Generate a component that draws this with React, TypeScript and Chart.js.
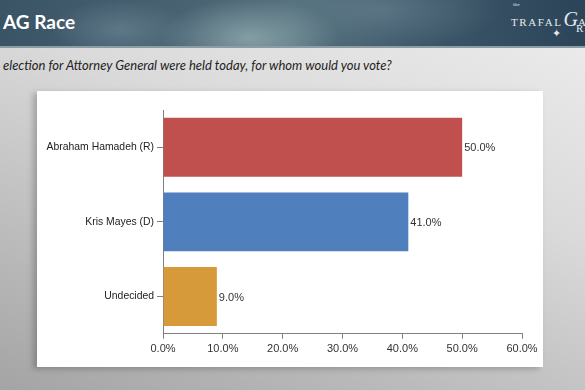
import React, { useEffect, useRef } from "react";
import { Chart, registerables } from "chart.js";
Chart.register(...registerables);

const titleText = "AG Race";
const questionText = "election for Attorney General were held today, for whom would you vote?";
const categories = ["Abraham Hamadeh (R)", "Kris Mayes (D)", "Undecided"];
const values = [50.0, 41.0, 9.0];
const barColors = ["#C0504D", "#4F7FBD", "#D69A3B"];
const xMin = 0;
const xMax = 60;
const xStep = 10;

const FONT = "'Liberation Sans', Arial, Helvetica, sans-serif";

const valueLabels = {
  id: "valueLabels",
  afterDatasetsDraw(chart: any) {
    const ctx = chart.ctx;
    const meta = chart.getDatasetMeta(0);
    ctx.save();
    ctx.font = `11px ${FONT}`;
    ctx.fillStyle = "#333333";
    ctx.textBaseline = "middle";
    ctx.textAlign = "left";
    meta.data.forEach((bar: any, i: number) => {
      const v = chart.data.datasets[0].data[i] as number;
      ctx.fillText(v.toFixed(1) + "%", bar.x + 2, bar.y + 1);
    });
    ctx.restore();
  },
};

function BarChart() {
  const ref = useRef<HTMLCanvasElement>(null);
  useEffect(() => {
    if (!ref.current) return;
    const chart = new Chart(ref.current, {
      type: "bar",
      data: {
        labels: categories,
        datasets: [
          {
            data: values,
            backgroundColor: barColors,
            borderWidth: 0,
            barPercentage: 0.79,
            categoryPercentage: 1,
          },
        ],
      },
      options: {
        indexAxis: "y",
        responsive: false,
        animation: false,
        layout: { padding: { top: 19, right: 21, bottom: 7, left: 0 } },
        plugins: { legend: { display: false }, tooltip: { enabled: false } },
        scales: {
          x: {
            min: xMin,
            max: xMax,
            ticks: {
              stepSize: xStep,
              callback: (v: any) => Number(v).toFixed(1) + "%",
              font: { size: 11, family: FONT },
              color: "#333333",
              padding: 4,
              maxRotation: 0,
            },
            grid: { drawOnChartArea: false, tickLength: 5, color: "#808080" },
            border: { color: "#808080" },
          },
          y: {
            ticks: { font: { size: 10.4, family: FONT }, color: "#222222", padding: 3 },
            grid: { drawOnChartArea: false, offset: false, tickLength: 6, color: "#808080" },
            border: { color: "#808080" },
            afterFit: (s: any) => {
              s.width = 126;
            },
          },
        },
      },
      plugins: [valueLabels],
    });
    return () => chart.destroy();
  }, []);
  return <canvas ref={ref} width={506} height={276} style={{ width: 506, height: 276, display: "block" }} />;
}

export default function App() {
  return (
    <div
      style={{
        position: "fixed",
        left: 0,
        top: 0,
        width: 585,
        height: 390,
        overflow: "hidden",
        background: "linear-gradient(200deg, #eeeeee 0%, #dadada 40%, #a4a4a4 100%)",
      }}
    >
      <div
        style={{
          position: "absolute",
          left: 0,
          top: 0,
          width: 585,
          height: 48,
          background:
            "radial-gradient(ellipse 90px 40px at 250px 38px, rgba(150,175,180,0.75), rgba(150,175,180,0) 100%)," +
            "radial-gradient(ellipse 70px 30px at 120px 30px, rgba(120,145,160,0.5), rgba(120,145,160,0) 100%)," +
            "radial-gradient(ellipse 120px 40px at 380px 10px, rgba(110,135,150,0.55), rgba(110,135,150,0) 100%)," +
            "linear-gradient(90deg, #3a5466 0%, #4a6474 35%, #54707c 50%, #3e586a 70%, #2c4458 100%)",
          borderBottom: "2px solid #8a9ca4",
          boxSizing: "border-box",
        }}
      >
        <div
          style={{
            position: "absolute",
            left: 3,
            top: 10,
            fontFamily: "Lato, 'Open Sans', sans-serif",
            fontWeight: 700,
            fontSize: 19,
            color: "#ffffff",
            lineHeight: "24px",
          }}
        >
          {titleText}
        </div>
        <div
          style={{
            position: "absolute",
            left: 513,
            top: 2,
            fontFamily: "'DejaVu Serif', 'Liberation Serif', serif",
            fontSize: 4,
            color: "#dfe6ea",
          }}
        >
          the
        </div>
        <div
          style={{
            position: "absolute",
            left: 511,
            top: 8,
            fontFamily: "'Liberation Serif', serif",
            fontSize: 11,
            letterSpacing: 1.6,
            color: "#e4eaee",
            whiteSpace: "nowrap",
          }}
        >
          TRAFAL
          <span style={{ fontStyle: "italic", fontSize: 20, letterSpacing: 0, marginLeft: 1 }}>G</span>
          <span>A</span>
        </div>
        <div
          style={{
            position: "absolute",
            left: 576,
            top: 22,
            fontFamily: "'Liberation Serif', serif",
            fontSize: 11,
            color: "#e4eaee",
          }}
        >
          R
        </div>
        <div
          style={{
            position: "absolute",
            left: 552,
            top: 27,
            fontSize: 11,
            color: "#e4eaee",
          }}
        >
          ✦
        </div>
      </div>
      <div
        style={{
          position: "absolute",
          left: 3,
          top: 57,
          fontFamily: "Lato, 'Open Sans', sans-serif",
          fontStyle: "italic",
          fontSize: 13,
          color: "#1e1e1e",
          whiteSpace: "nowrap",
        }}
      >
        {questionText}
      </div>
      <div
        style={{
          position: "absolute",
          left: 37,
          top: 91,
          width: 506,
          height: 276,
          background: "#ffffff",
          boxShadow: "-4px 2px 6px rgba(0,0,0,0.22)",
        }}
      >
        <BarChart />
      </div>
    </div>
  );
}
